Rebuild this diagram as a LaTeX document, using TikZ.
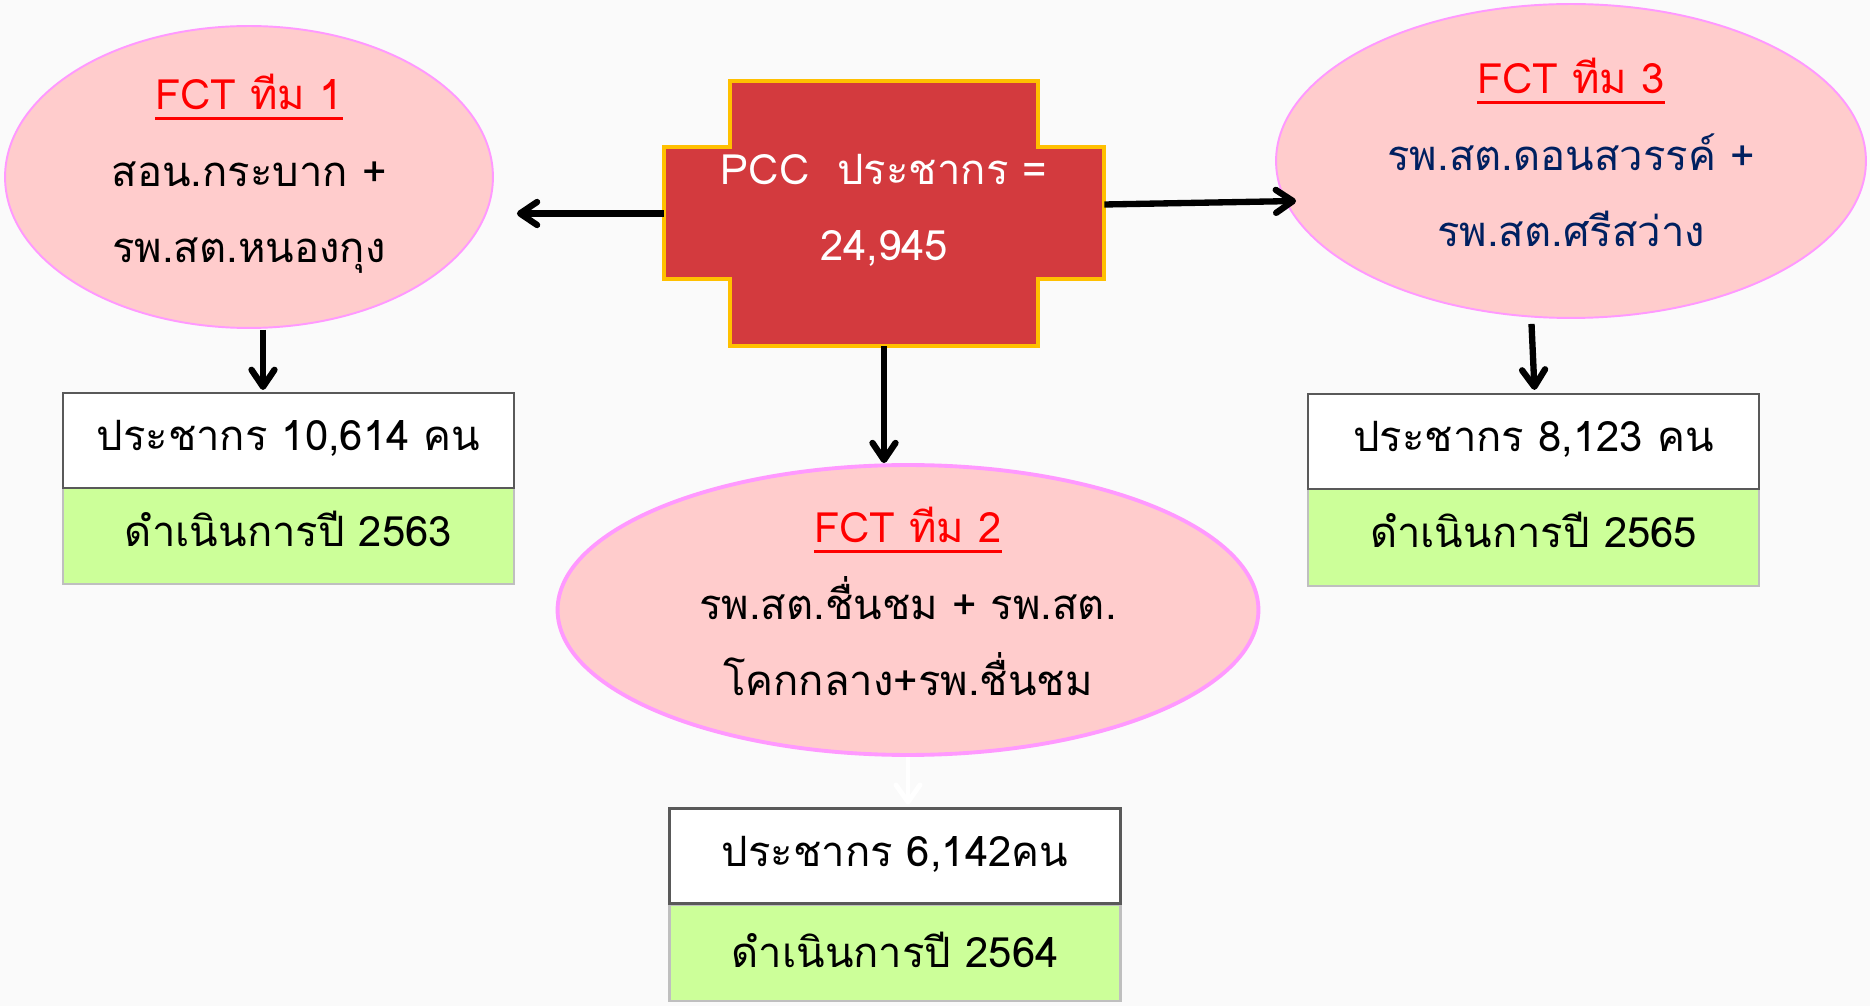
\documentclass[tikz,border=0pt]{standalone}
\usepackage{fontspec}
\usetikzlibrary{shapes.geometric,arrows.meta,calc}
\newfontfamily\thai[Script=Thai]{Loma}
\newcommand\fctul[1]{\setbox0\hbox{#1}\rlap{\vrule depth 6.2pt height -4.4pt width \wd0}\box0}
\definecolor{bgcol}{HTML}{FAFAFA}
\definecolor{crossred}{HTML}{D33A3E}
\definecolor{crossgold}{HTML}{FFC000}
\definecolor{ellfill}{HTML}{FFCCCC}
\definecolor{elldraw}{HTML}{FF99FF}
\definecolor{fctred}{HTML}{FF0000}
\definecolor{navytext}{HTML}{002060}
\definecolor{boxgray}{HTML}{595959}
\definecolor{greenfill}{HTML}{CCFF99}
\definecolor{greenline}{HTML}{BFBFBF}
\begin{document}
\begin{tikzpicture}[x=0.02cm,y=-0.02cm,
  thaitext/.style={font=\thai\fontsize{23.8pt}{43.7pt}\selectfont, align=center},
  team/.style={ellipse, draw=elldraw, fill=ellfill, line width=1.1pt, inner sep=0pt, thaitext, text height=3.6cm, text depth=0.16cm},
  popbox/.style={rectangle, draw=boxgray, fill=white, line width=1.2pt, minimum width=9.02cm, minimum height=1.9cm, inner sep=0pt, thaitext, text height=0.52cm, text depth=0.1cm},
  yearbox/.style={rectangle, draw=greenline, fill=greenfill, line width=1.2pt, minimum width=9.02cm, minimum height=1.93cm, inner sep=0pt, thaitext, text height=0.52cm, text depth=0.1cm},
  arr/.style={line width=3.6pt, -{Straight Barb[length=0.34cm,width=0.46cm,line cap=round,round]}},
  whitearr/.style={white, line width=2.8pt, -{Straight Barb[length=0.34cm,width=0.48cm,line cap=round,round]}}
]
\useasboundingbox (0,0) rectangle (1870,1006);
\fill[bgcol] (0,0) rectangle (1870,1006);

% central cross shape
\draw[fill=crossred, draw=crossgold, line width=1.8pt]
  (730,81) -- (1038,81) -- (1038,147) -- (1104,147) -- (1104,279) -- (1038,279)
  -- (1038,346) -- (730,346) -- (730,279) -- (664,279) -- (664,147) -- (730,147) -- cycle;
\node[thaitext, text=white, minimum width=8.8cm, minimum height=5.3cm, inner sep=0pt, text height=2.1cm, text depth=0.2cm] (pcc) at (884,213.5)
  {PCC\ \ ประชากร =\\24,945};

% team ellipses
\node[team, minimum width=9.76cm, minimum height=6.04cm] (e1) at (249,177)
  {{\color{fctred}\fctul{FCT ทีม 1}}\\สอน.กระบาก +\\รพ.สต.หนองกุง};
\node[team, line width=2.2pt, minimum width=14.02cm, minimum height=5.8cm] (e2) at (908,610)
  {{\color{fctred}\fctul{FCT ทีม 2}}\\รพ.สต.ชื่นชม + รพ.สต.\\โคกกลาง+รพ.ชื่นชม};
\node[team, text=navytext, minimum width=11.8cm, minimum height=6.28cm] (e3) at (1571,161)
  {{\color{fctred}\fctul{FCT ทีม 3}}\\รพ.สต.ดอนสวรรค์ +\\รพ.สต.ศรีสว่าง};

% population / year boxes
\node[yearbox] (y1) at (288.5,536) {ดำเนินการปี 2563};
\node[popbox] (b1) at (288.5,440.5) {ประชากร 10,614 คน};
\node[yearbox, text height=0.66cm] (y2) at (895,953) {ดำเนินการปี 2564};
\node[popbox] (b2) at (895,856) {ประชากร 6,142คน};
\node[yearbox] (y3) at (1533.5,537.5) {ดำเนินการปี 2565};
\node[popbox] (b3) at (1533.5,441.5) {ประชากร 8,123 คน};

% connectors
\draw[arr] (pcc.west) -- ($(pcc.west -| e1.east)+(23,0)$);
\draw[arr] ($(pcc.east)+(0,-9)$) -- ($(e3.west)+(21,40)$);
\draw[arr] (pcc.south) -- (pcc.south |- e2.north);
\draw[arr] ($(e1.south)+(14,1)$) -- ($(e1.south |- b1.north)+(14,-2)$);
\draw[arr] ($(b3.north |- e3.south)+(-2,5)$) -- ($(b3.north)+(1,-3)$);
\draw[whitearr] (e2.south) -- ($(e2.south |- b2.north)+(0,-3)$);
\end{tikzpicture}
\end{document}
